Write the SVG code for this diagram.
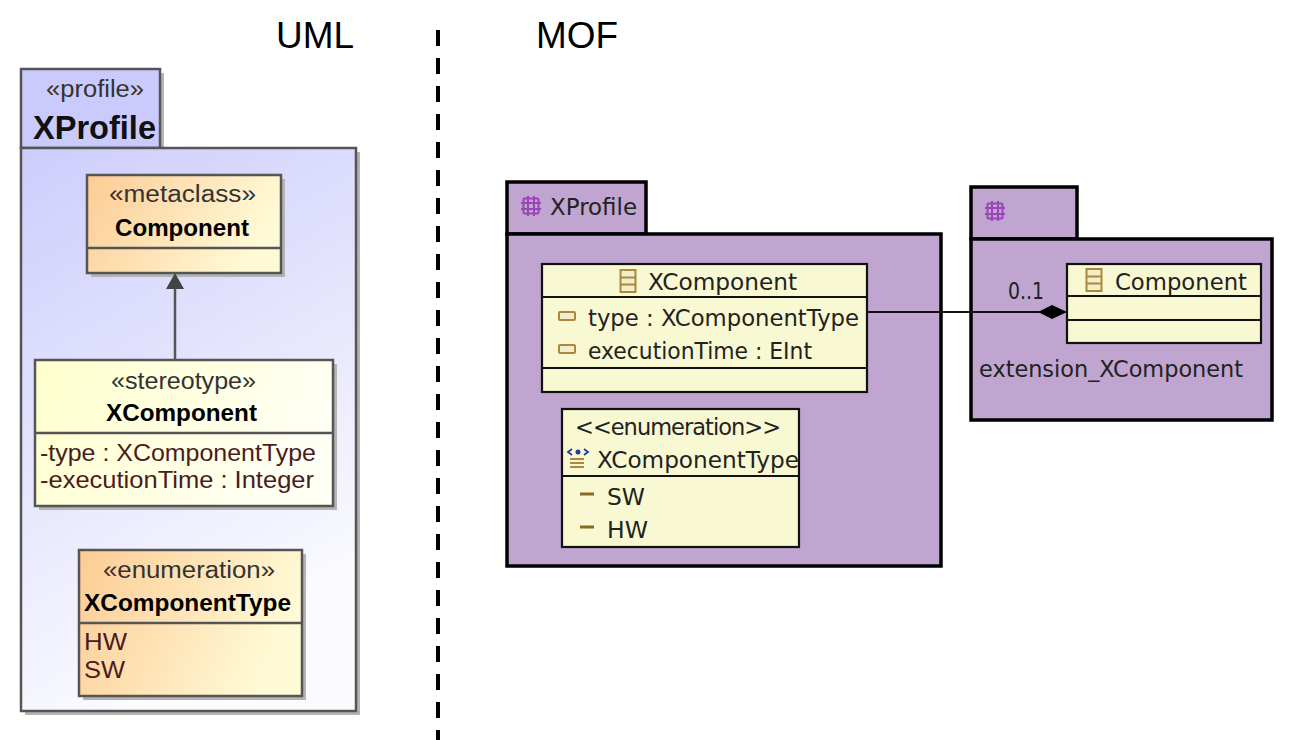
<svg xmlns="http://www.w3.org/2000/svg" width="1292" height="740" viewBox="0 0 1292 740">
<style>
text{font-family:"Liberation Sans",Arial,sans-serif;fill:#111}
.m{text-anchor:middle}
.h{font-size:36px;fill:#000}
.st{font-size:23.5px;fill:#333}
.b{font-size:24px;font-weight:bold;fill:#000}
.at{font-size:24px;fill:#4a1c1c}
.e{font-family:"DejaVu Sans",Verdana,sans-serif;font-size:22.5px;fill:#222}
.u{stroke:#555;stroke-width:2.5}
.pk{fill:#bfa5cf;stroke:#000;stroke-width:3.5}
.cl{fill:#f8f8d2;stroke:#111;stroke-width:2.2}
.dv{stroke:#111;stroke-width:2.2;fill:none}
.sh{fill:#b4b4b4}
.ic{fill:#f3eec8;stroke:#a8893f;stroke-width:2}
.pi{fill:none;stroke:#9a45b5;stroke-width:2}
</style>
<defs>
<linearGradient id="pf" x1="0" y1="0" x2="0.35" y2="1"><stop offset="0" stop-color="#cdcdfc"/><stop offset="1" stop-color="#fbfbff"/></linearGradient>
<linearGradient id="or" x1="0" y1="0" x2="1" y2="0.3"><stop offset="0" stop-color="#fdcb94"/><stop offset="1" stop-color="#fffad6"/></linearGradient>
<linearGradient id="ye" x1="0" y1="0" x2="1" y2="0.3"><stop offset="0" stop-color="#ffffcc"/><stop offset="1" stop-color="#fffff4"/></linearGradient>
<g id="pkicon" class="pi"><rect x="-7.5" y="-7.5" width="15" height="15" rx="1"/><path d="M-3-10V10M3-10V10M-10-3H10M-10 3H10"/></g>
<g id="clicon" class="ic"><rect x="-7.5" y="-11" width="15" height="22"/><path d="M-7.500-3.500H7.500M-7.500 3.500H7.500"/></g>
<rect id="attr" class="ic" x="-8" y="-4" width="16" height="8" rx="1"/>
</defs>

<g id="headers">
<text class="h" x="276" y="48" textLength="78" lengthAdjust="spacingAndGlyphs">UML</text>
<text class="h" x="536" y="48" textLength="82" lengthAdjust="spacingAndGlyphs">MOF</text>
<line x1="438" y1="30" x2="438" y2="740" stroke="#000" stroke-width="4" stroke-dasharray="16 12"/>
</g>

<g id="uml-profile">
<path class="sh" d="M25 73H164V152H360V715H25Z"/>
<rect class="u" x="21" y="69" width="139" height="79" fill="#cacafc"/>
<rect class="u" x="21" y="148" width="335" height="563" fill="url(#pf)"/>
<text class="st" x="46" y="97" textLength="98" lengthAdjust="spacingAndGlyphs">«profile»</text>
<text x="33" y="139" font-size="33" font-weight="bold" fill="#000" textLength="123" lengthAdjust="spacingAndGlyphs">XProfile</text>
</g>

<g id="uml-component">
<rect class="sh" x="91" y="179" width="194" height="98"/>
<rect class="u" x="87" y="175" width="194" height="98" fill="url(#or)"/>
<line class="u" x1="87" y1="248" x2="281" y2="248"/>
<text class="st" x="109" y="202" textLength="147" lengthAdjust="spacingAndGlyphs">«metaclass»</text>
<text class="b" x="115" y="236" textLength="134" lengthAdjust="spacingAndGlyphs">Component</text>
</g>

<g id="uml-xcomponent">
<rect class="sh" x="39" y="364" width="298" height="146"/>
<rect class="u" x="35" y="360" width="298" height="146" fill="url(#ye)"/>
<line class="u" x1="35" y1="433" x2="333" y2="433"/>
<text class="st" x="111" y="389" textLength="145" lengthAdjust="spacingAndGlyphs">«stereotype»</text>
<text class="b" x="106" y="421" textLength="151" lengthAdjust="spacingAndGlyphs">XComponent</text>
<text class="at" x="40" y="461" textLength="276" lengthAdjust="spacingAndGlyphs">-type : XComponentType</text>
<text class="at" x="40" y="488" textLength="274" lengthAdjust="spacingAndGlyphs">-executionTime : Integer</text>
</g>

<g id="uml-enumeration">
<rect class="sh" x="83" y="554" width="223" height="146"/>
<rect class="u" x="79" y="550" width="223" height="146" fill="url(#or)"/>
<line class="u" x1="79" y1="623" x2="302" y2="623"/>
<text class="st" x="103" y="578" textLength="172" lengthAdjust="spacingAndGlyphs">«enumeration»</text>
<text class="b" x="84" y="611" textLength="207" lengthAdjust="spacingAndGlyphs">XComponentType</text>
<text class="at" x="84" y="650" textLength="43" lengthAdjust="spacingAndGlyphs">HW</text>
<text class="at" x="84" y="678" textLength="41" lengthAdjust="spacingAndGlyphs">SW</text>
</g>

<g id="mof-xprofile">
<rect class="pk" x="507" y="182" width="139" height="52"/>
<rect class="pk" x="507" y="234" width="434" height="332"/>
<use href="#pkicon" x="531" y="206"/>
<text class="e" x="550" y="215" textLength="87" lengthAdjust="spacingAndGlyphs">XProfile</text>
</g>

<g id="mof-package2">
<rect class="pk" x="971" y="187" width="106" height="52"/>
<rect class="pk" x="971" y="239" width="301" height="181"/>
<use href="#pkicon" x="995" y="211"/>
<text class="e" x="979" y="377" textLength="264" lengthAdjust="spacingAndGlyphs">extension_XComponent</text>
</g>

<g id="mof-xcomponent">
<rect class="cl" x="542" y="264" width="325" height="128"/>
<path class="dv" d="M542 297H867M542 368H867"/>
<use href="#clicon" x="628" y="281"/>
<text class="e" x="648" y="290" textLength="149" lengthAdjust="spacingAndGlyphs">XComponent</text>
<use href="#attr" x="567" y="316"/>
<text class="e" x="588" y="326" textLength="271" lengthAdjust="spacingAndGlyphs">type : XComponentType</text>
<use href="#attr" x="567" y="349"/>
<text class="e" x="588" y="359" textLength="224" lengthAdjust="spacingAndGlyphs">executionTime : EInt</text>
</g>

<g id="mof-enumeration">
<rect class="cl" x="562" y="409" width="237" height="138"/>
<path class="dv" d="M562 476H799"/>
<text class="e" x="575" y="435" textLength="206">&lt;&lt;enumeration&gt;&gt;</text>
<g fill="none" stroke="#1e3f9a" stroke-width="1.800"><path d="M572 449L568 452L572 455M584 449L588 452L584 455"/></g>
<circle cx="578" cy="452" r="2.500" fill="#1e3f9a"/>
<path d="M570 459H584M570 463H584M570 467H584" stroke="#a8893f" stroke-width="1.800"/>
<text class="e" x="597" y="468" textLength="202" lengthAdjust="spacingAndGlyphs">XComponentType</text>
<path d="M580 494H594M580 527H594" stroke="#8a6a20" stroke-width="3"/>
<text class="e" x="607" y="505" textLength="38" lengthAdjust="spacingAndGlyphs">SW</text>
<text class="e" x="607" y="538" textLength="41" lengthAdjust="spacingAndGlyphs">HW</text>
</g>

<g id="mof-component">
<rect class="cl" x="1067" y="264" width="194" height="79"/>
<path class="dv" d="M1067 296H1261M1067 320H1261"/>
<use href="#clicon" x="1094" y="280"/>
<text class="e" x="1115" y="290" textLength="132" lengthAdjust="spacingAndGlyphs">Component</text>
</g>

<g id="connectors">
<line class="u" x1="175" y1="360" x2="175" y2="285"/>
<path d="M175 273L184 289H166Z" fill="#444"/>
<line x1="867" y1="312" x2="1040" y2="312" stroke="#111" stroke-width="2"/>
<path d="M1038 312L1052 305L1067 312L1052 319Z" fill="#000"/>
<text class="e" x="1008" y="299" font-size="21" textLength="36" lengthAdjust="spacingAndGlyphs">0..1</text>
</g>
</svg>
